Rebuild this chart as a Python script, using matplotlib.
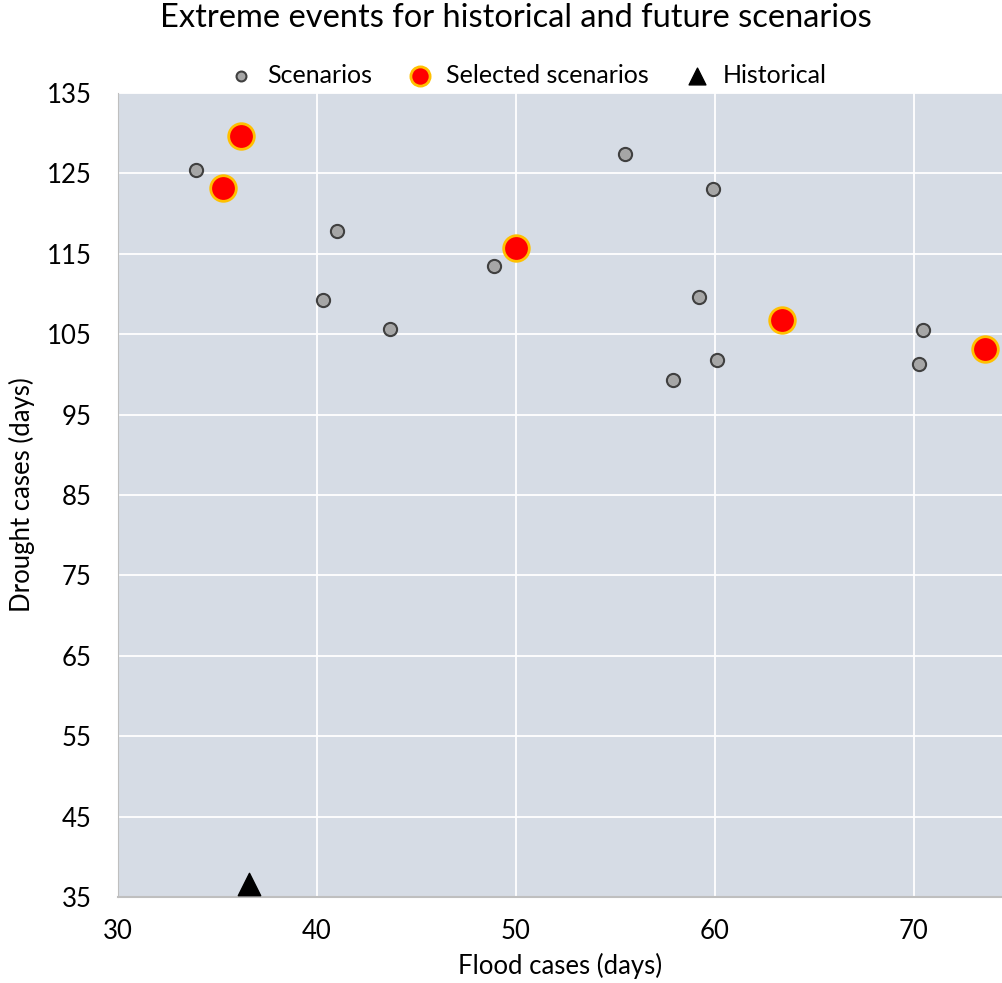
import matplotlib.pyplot as plt

plt.rcParams['font.family'] = ['Lato', 'DejaVu Sans']

# scenario points (flood days, drought days)
scen_flood = [33.9, 41.0, 40.3, 43.7, 48.9, 55.5, 59.9, 59.2, 57.9, 60.1, 70.3, 70.5]
scen_drought = [125.4, 117.8, 109.3, 105.6, 113.5, 127.4, 123.1, 109.6, 99.3, 101.8, 101.3, 105.5]

sel_flood = [36.2, 35.3, 50.0, 63.4, 73.6]
sel_drought = [129.7, 123.2, 115.7, 106.8, 103.2]

hist_flood = [36.6]
hist_drought = [36.6]

x_ticks = [30, 40, 50, 60, 70]
y_ticks = [35, 45, 55, 65, 75, 85, 95, 105, 115, 125, 135]

fig = plt.figure(figsize=(10.03, 9.83), dpi=100)
ax = fig.add_axes([0.1176, 0.0875, 0.8824, 0.8179])
ax.set_facecolor('#D6DCE5')

ax.scatter(scen_flood, scen_drought, s=90, c='#A6A6A6', edgecolors='#404040',
           linewidths=1.5, label='Scenarios', zorder=3)
ax.scatter(sel_flood, sel_drought, s=340, c='#FF0000', edgecolors='#FFC000',
           linewidths=2, label='Selected scenarios', zorder=4)
ax.scatter(hist_flood, hist_drought, s=260, c='black', marker='^',
           label='Historical', zorder=4, clip_on=False)

ax.set_xlim(30, 74.5)
ax.set_ylim(35, 135)
ax.set_xticks(x_ticks)
ax.set_yticks(y_ticks)
ax.grid(color='white', linewidth=1.3)
ax.set_axisbelow(True)
ax.tick_params(length=0, labelsize=18.5)
ax.tick_params(axis='x', pad=16)
ax.tick_params(axis='y', pad=19)
for s in ['top', 'right']:
    ax.spines[s].set_visible(False)
ax.spines['left'].set_color('#BFBFBF')
ax.spines['bottom'].set_color('#BFBFBF')
ax.spines['bottom'].set_linewidth(1.5)

ax.set_xlabel('Flood cases (days)', fontsize=18.5, labelpad=6)
ax.set_ylabel('Drought cases (days)', fontsize=18.5, labelpad=8)

fig.suptitle('Extreme events for historical and future scenarios', fontsize=23.5,
             x=0.514, y=0.997)
fig.legend(loc='upper center', bbox_to_anchor=(0.52, 0.958), ncol=3, frameon=False,
           fontsize=18, handletextpad=0.05, columnspacing=0.9, markerscale=0.75)

fig.savefig('out.png', dpi=100)
